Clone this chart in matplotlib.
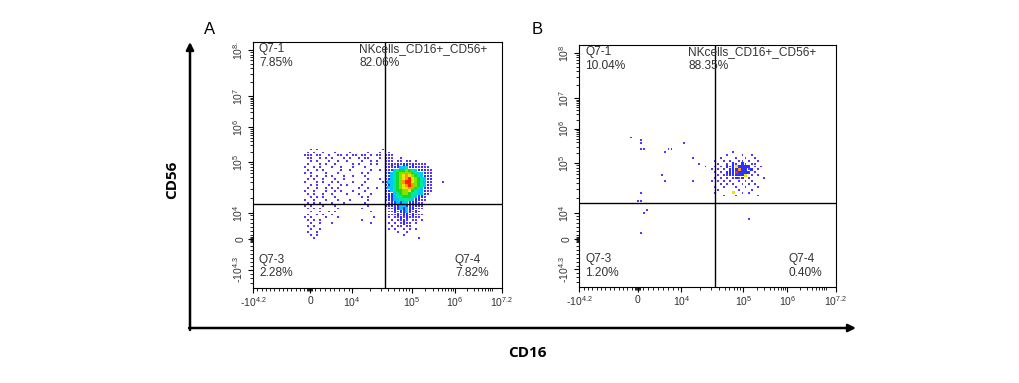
import numpy as np
import matplotlib
matplotlib.use("Agg")
import matplotlib.pyplot as plt
from matplotlib.patches import FancyArrowPatch

plt.rcParams["font.family"] = ["Liberation Sans", "DejaVu Sans"]
plt.rcParams["mathtext.fontset"] = "custom"
plt.rcParams["mathtext.rm"] = "Liberation Sans"
plt.rcParams["mathtext.it"] = "Liberation Sans:italic"
plt.rcParams["mathtext.bf"] = "Liberation Sans:bold"

# ---- data, in display channel units (0-1000 on both axes) ----
panel_names = ["A", "B"]
x_ticks = [0, 229, 398, 639, 811, 1000]
x_labels = ["-$10^{4.2}$", "0", "$10^{4}$", "$10^{5}$", "$10^{6}$", "$10^{7.2}$"]
y_ticks = [73, 199, 305, 512, 654, 780, 967]
y_labels_a = ["-$10^{4.3}$", "0", "$10^{4}$", "$10^{5}$", "$10^{6}$", "$10^{7}$", "$10^{8.}$"]
y_labels_b = ["-$10^{4.3}$", "0", "$10^{4}$", "$10^{5}$", "$10^{6}$", "$10^{7}$", "$10^{8}$"]

gate_x = [530, 529]
gate_y = [343, 347]

quad_names = ["Q7-1", "NKcells_CD16+_CD56+", "Q7-3", "Q7-4"]
quad_pct_a = ["7.85%", "82.06%", "2.28%", "7.82%"]
quad_pct_b = ["10.04%", "88.35%", "1.20%", "0.40%"]

# event density, one character per 12x12 channel cell
# '.' = no events, 1..9 = density level (blue -> red)
cell = 12
map_a_origin = (192, 569)
map_a = [
    "...1.1.... .......... .......1.. .......... .........",
    "..1.1..1.. .1....1... ..1...1..1 .......... .........",
    ".111.11..1 ..11.1.11. 11.1.11.11 1......... .........",
    "..11..1.1. 1...1.1..1 .11...1.11 1..1...... .........",
    "...1.1...1 ..1..1.... 1..1.1..11 1.11.11.1. .........",
    "..1...1.1. .1.....1.1 ...1.1..11 2121221211 11.......",
    ".1..1.1... 1..1...1.. .1......12 1223342221 211......",
    "..1..1.1.. ...1..1... ...1..1.21 2345565432 2211.....",
    ".1.1....1. ..1....... 1.1.....12 3456666543 3211.....",
    "...1.1..1. 1...1..1.. .1......12 3456787654 3221.....",
    "..1.1..1.. .1..1..... ..1...1.12 3456789765 4322.....",
    ".1...1.1.. 1.1....1.. .1.....123 3456899765 4321...1.",
    "...1.1...1 ...1.1.... 1.......22 3456789865 4321.....",
    "..1..1..1. 1.1......1 ..1..1..23 3456778654 3221.....",
    ".1..1...1. .1.1...1.. .1......22 3455667543 3211.....",
    "..1.1..1.. 1....1...1 ...1....12 2345665443 321......",
    "...1.1.1.. .1........ 1.1.....12 2344555432 21.......",
    ".1..1...1. ..1...1... ..1.....12 2334444322 11.......",
    "..1.1.1... 1...1..... .1.......1 2232332221 1........",
    ".1.1...1.. .1........ ..1.....11 2123322121 1........",
    "..1.1.1... ..1....... 1........1 1223232211 1........",
    "...1..1..1 .1........ ...1.....1 1212232121 .........",
    "..1..1.1.. 1......... .........1 1121221211 1........",
    ".1.1....1. ..1....... ....1....1 .112121111 .........",
    "..1.1.1... .......... 1......... 1.1121.11. 1........",
    "...1..1... 1......... ...1.....1 .1.1211.1. .........",
    "..1.1..... .......... .......... 1.11.11... .........",
    "...1..1... .......... .........1 .1..1.1.1. .........",
    "..1..1.... .......... .......... ..1..1.... .........",
    "...1.1.... .......... .......... ....1..... .........",
    "....1..... .......... .......... .........1 .........",
]
map_b_origin = (198, 624)
map_b = [
    "1......... .......... .......... .......... .....",
    "...1...... .......... .......... .......... .....",
    "...1...... .......1.. .......... .......... .....",
    ".......... .......... .......... .......... .....",
    "...11..... ..11...... .......... .......... .....",
    ".......... .1........ .......... ...1...... .....",
    ".......... .......... .......... .1....1..1 .....",
    ".......... .......... 1........1 ....1..1.. 1....",
    ".......... .......... .......1.. 1.1..11.1. .1...",
    ".......... .......... ..1.....1. .1.21.21.1 1....",
    ".......... .......... ....1..1.1 .21272222. 1.1..",
    ".......... .......... ......1.1. 1.22282212 .1...",
    ".......... .......... .......1.1 .22292222. 1....",
    ".......... 1......... ........1. 11222227.1 .1...",
    ".......... .......... .......1.1 .1.1212.1. ...1.",
    ".......... .1........ 1.....1.1. 1.1..1.1.1 .....",
    ".......... .......... .........1 .1.1..1.1. 1....",
    ".......... .......... .......1.. 1...1..1.. .1...",
    ".......... .......... ........1. .....1...1 .....",
    "...1...... .......... .......1.. ...7..1.1. .....",
    ".......... .......... .......... 1...1..... .1...",
    ".......... .......... .......... .......... .....",
    "..11...... .......... .......... .......... .....",
    ".......... .......... .......... .......... .....",
    ".......... .......... .......... .......... .....",
    ".....1.... .......... .......... .......... .....",
    "....1..... .......... .......... .......... .....",
    ".......... .......... .......... .......... .....",
    ".......... .......... .......... ........1. .....",
    ".......... .......... .......... .......... .....",
    ".......... .......... .......... .......... .....",
    ".......... .......... .......... .......... .....",
    ".......... .......... .......... .......... .....",
    "...1...... .......... .......... .......... .....",
]

level_colors = {1: "#5a35ff", 2: "#2a30ff", 3: "#00c8ff", 4: "#00e8a0", 5: "#18d830",
                6: "#80e400", 7: "#f0e400", 8: "#ff9800", 9: "#ff2000"}
level_sizes = {1: 1.8, 2: 3.4}  # marker area (pt^2); denser levels fill their cell


def read_map(rows, origin):
    xs, ys, lv = [], [], []
    for r, row in enumerate(rows):
        row = row.replace(" ", "")
        for c, ch in enumerate(row):
            if ch != ".":
                xs.append(origin[0] + (c + 0.5) * cell)
                ys.append(origin[1] - (r + 0.5) * cell)
                lv.append(int(ch))
    return np.array(xs), np.array(ys), np.array(lv)


# minor tick positions of the biexponential display
def decade_ticks(a, b):
    return list(a + (b - a) * np.log10(np.arange(2, 10)))

x_minor = (list(np.linspace(18, 205, 12)) + [218, 222, 226, 232, 236]
           + list(np.linspace(250, 385, 8))
           + decade_ticks(398, 639) + decade_ticks(639, 811) + decade_ticks(811, 968))
y_minor = ([20, 40, 58] + list(np.linspace(88, 185, 7)) + [192, 195, 203, 206]
           + list(np.linspace(215, 295, 6))
           + decade_ticks(305, 512) + decade_ticks(512, 654) + decade_ticks(654, 780)
           + decade_ticks(780, 967))

fig = plt.figure(figsize=(10.19, 3.83), dpi=100)
ax_a = fig.add_axes([253 / 1019, 95 / 383, 249 / 1019, 246 / 383])
ax_b = fig.add_axes([579 / 1019, 96 / 383, 257 / 1019, 242 / 383])

panels = [
    (ax_a, map_a, map_a_origin, quad_pct_a, y_labels_a, 0),
    (ax_b, map_b, map_b_origin, quad_pct_b, y_labels_b, 1),
]

txt_color = "#333333"
for ax, rows, origin, pct, ylab, i in panels:
    xs, ys, lv = read_map(rows, origin)
    order = np.argsort(lv, kind="stable")
    xs, ys, lv = xs[order], ys[order], lv[order]
    sizes = [level_sizes.get(v, 5.4) for v in lv]
    cols = [level_colors[v] for v in lv]
    ax.scatter(xs, ys, s=sizes, c=cols, marker="s", linewidths=0, zorder=2)

    ax.axvline(gate_x[i], color="black", lw=1.0, zorder=3)
    ax.axhline(gate_y[i], color="black", lw=1.0, zorder=3)

    ax.set_xlim(0, 1000)
    ax.set_ylim(0, 1000)
    ax.set_xticks(x_ticks, x_labels, fontsize=7.5, color=txt_color)
    ax.set_yticks(y_ticks, ylab, fontsize=7.5, color=txt_color, rotation=90, va="center")
    ax.set_xticks(x_minor, minor=True)
    ax.set_yticks(y_minor, minor=True)
    ax.tick_params(which="major", direction="out", length=3.5, width=0.8, pad=2)
    ax.tick_params(which="minor", direction="out", length=2, width=0.6)
    for sp in ax.spines.values():
        sp.set_linewidth(0.8)
        sp.set_color("black")

    kw = dict(transform=ax.transAxes, fontsize=8.6, color=txt_color, linespacing=1.15)
    ax.text(0.024, 0.995, quad_names[0] + "\n" + pct[0], va="top", ha="left", **kw)
    ax.text(0.426, 0.995, quad_names[1] + "\n" + pct[1], va="top", ha="left", **kw)
    ax.text(0.024, 0.035, quad_names[2] + "\n" + pct[2], va="bottom", ha="left", **kw)
    ax.text(0.946, 0.035, quad_names[3] + "\n" + pct[3], va="bottom", ha="right",
            multialignment="left", **kw)

fig.text(210 / 1019, 1 - 30 / 383, panel_names[0], fontsize=12, ha="center", va="center")
fig.text(537 / 1019, 1 - 30 / 383, panel_names[1], fontsize=12, ha="center", va="center")

# big axis arrows and labels
fig.add_artist(FancyArrowPatch((190 / 1019, 1 - 330 / 383), (190 / 1019, 1 - 42 / 383),
                               transform=fig.transFigure, arrowstyle="-|>",
                               mutation_scale=11, lw=1.8, color="black",
                               shrinkA=0, shrinkB=0))
fig.add_artist(FancyArrowPatch((189 / 1019, 1 - 328 / 383), (856 / 1019, 1 - 328 / 383),
                               transform=fig.transFigure, arrowstyle="-|>",
                               mutation_scale=11, lw=1.8, color="black",
                               shrinkA=0, shrinkB=0))
fig.text(172 / 1019, 1 - 180 / 383, "CD56", rotation=90, fontsize=11, fontweight="bold",
         ha="center", va="center", family=["Open Sans", "DejaVu Sans"])
fig.text(527 / 1019, 1 - 353 / 383, "CD16", fontsize=11, fontweight="bold",
         ha="center", va="center", family=["Open Sans", "DejaVu Sans"])

fig.savefig("out.png", dpi=100, facecolor="white")
